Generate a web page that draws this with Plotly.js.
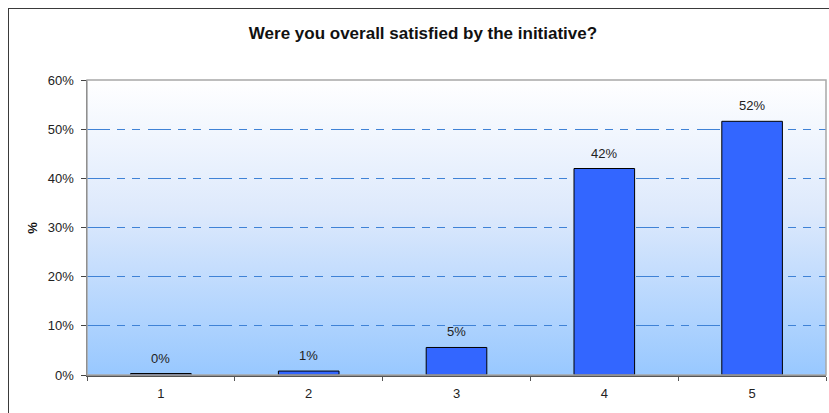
<!DOCTYPE html>
<html>
<head>
<meta charset="utf-8">
<script src="https://cdn.plot.ly/plotly-3.0.1.min.js"></script>
<style>
  html, body { margin:0; padding:0; background:#fff; overflow:hidden; }
  #wrap { position:relative; width:829px; height:413px; overflow:hidden; }
  #chart { width:829px; height:413px; }
  #frame { position:absolute; left:8px; top:8px; width:900px; height:500px;
           border:1.5px solid #3a3a3a; pointer-events:none; box-sizing:border-box; }
</style>
</head>
<body>
<div id="wrap">
  <div id="chart"></div>
  <div id="frame"></div>
</div>
<script>
const categories = ["1", "2", "3", "4", "5"];
const values = [0.3, 0.8, 5.6, 42.0, 51.6];
const labels = ["0%", "1%", "5%", "42%", "52%"];
const yTicks = [0, 10, 20, 30, 40, 50, 60];
const yTickLabels = ["0%", "10%", "20%", "30%", "40%", "50%", "60%"];
const chartTitle = "Were you overall satisfied by the initiative?";
const yTitle = "%";

const gradSvg = '<svg xmlns="http://www.w3.org/2000/svg" width="100" height="100" preserveAspectRatio="none">' +
  '<defs><linearGradient id="g" x1="0" y1="0" x2="0" y2="1">' +
  '<stop offset="0" stop-color="#ffffff"/><stop offset="0.45" stop-color="#dde9fc"/>' +
  '<stop offset="1" stop-color="#98c8ff"/></linearGradient></defs>' +
  '<rect width="100" height="100" fill="url(#g)"/></svg>';
const gradUri = 'data:image/svg+xml;base64,' + btoa(gradSvg);

const font = "Liberation Sans, Arial, sans-serif";

const trace = {
  type: "bar",
  x: categories,
  y: values,
  marker: { color: "#3366ff", line: { color: "#000000", width: 1 } },
  hoverinfo: "skip"
};

const annotations = categories.map((c, i) => ({
  x: i, y: values[i], xref: "x", yref: "y",
  text: labels[i], showarrow: false, yanchor: "bottom", yshift: 6,
  font: { family: font, size: 13, color: "#222" }
}));
annotations.push({
  xref: "paper", yref: "paper", x: -0.074, y: 0.5, xanchor: "center", yanchor: "middle",
  text: "<b>" + yTitle + "</b>", textangle: -90, showarrow: false,
  font: { family: font, size: 13, color: "#111" }
});

const layout = {
  width: 829, height: 413,
  margin: { l: 87, r: 3, t: 80, b: 38 },
  paper_bgcolor: "rgba(0,0,0,0)",
  plot_bgcolor: "rgba(0,0,0,0)",
  showlegend: false,
  bargap: 0.59,
  title: {
    text: "<b>" + chartTitle + "</b>",
    x: 423/829, xref: "container", xanchor: "center",
    y: 1 - 33/413, yref: "container", yanchor: "middle",
    font: { family: font, size: 17, color: "#111" }
  },
  images: [{
    source: gradUri, xref: "paper", yref: "paper", x: 0, y: 1,
    sizex: 1, sizey: 1, xanchor: "left", yanchor: "top",
    sizing: "stretch", layer: "below"
  }],
  xaxis: {
    type: "category",
    range: [-0.5, 4.5],
    showgrid: false,
    tickson: "boundaries",
    ticks: "outside", ticklen: 4, tickcolor: "#555", tickwidth: 1,
    showline: true, linecolor: "#555", linewidth: 1.5,
    ticklabelstandoff: 6,
    tickfont: { family: font, size: 13, color: "#222" },
    zeroline: false, fixedrange: true
  },
  yaxis: {
    range: [0, 60],
    tickvals: yTicks, ticktext: yTickLabels,
    ticks: "outside", ticklen: 5, tickcolor: "#444", tickwidth: 1,
    showline: true, linecolor: "#444", linewidth: 1.5,
    showgrid: true, gridcolor: "#3f82d6", gridwidth: 1,
    griddash: "23px,7px,8px,7px,8px,8px",
    zeroline: false,
    ticklabelstandoff: 4,
    tickfont: { family: font, size: 13, color: "#222" },
    fixedrange: true
  },
  shapes: [{
    type: "rect", xref: "paper", yref: "paper", x0: 0, x1: 1, y0: 0, y1: 1,
    line: { color: "#a8a8a8", width: 1.5 }, layer: "above"
  }],
  annotations: annotations
};

Plotly.newPlot("chart", [trace], layout, { staticPlot: true, displayModeBar: false });
</script>
</body>
</html>
